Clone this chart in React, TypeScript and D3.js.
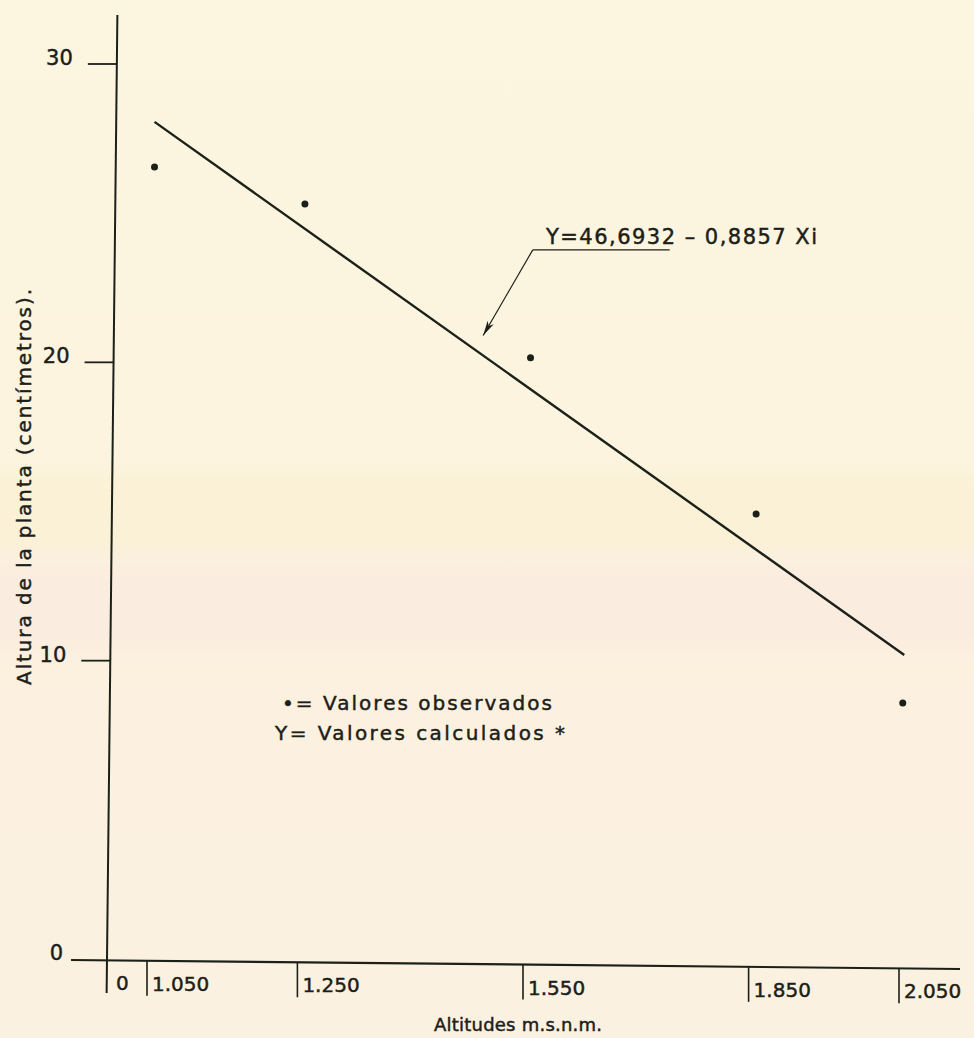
import React from "react";
import * as d3 from "d3";

// altitudes (m.s.n.m.) of the sampled sites and observed plant heights (cm)
const altitudes = [1060, 1260, 1560, 1860, 2055];
const observedHeights = [26.55, 25.31, 20.15, 14.92, 8.58];

// calculated regression line, end points
const fittedAltitudes = [1060, 2057];
const fittedHeights = [28.06, 10.19];

const yTicks = [0, 10, 20, 30];
const xTicks = [1050, 1250, 1550, 1850, 2050];
const xTickLabels = ["1.050", "1.250", "1.550", "1.850", "2.050"];

const equation = "Y=46,6932 – 0,8857 Xi";
const legendLines = ["•= Valores observados", "Y= Valores calculados *"];

const W = 974;
const H = 1038;
const ink = "#1b2019";
const font = "'DejaVu Sans', sans-serif";

// lettering-pen look: a thin outline thickens the glyphs a bit
const pen = { fontFamily: font, fill: ink, stroke: ink, strokeWidth: 0.45 };

export default function App() {
  const x = d3.scaleLinear().domain([1050, 2050]).range([147, 899]);
  const y = d3.scaleLinear().domain([0, 30]).range([959, 64]);

  // the hand drawn axes lean a little
  const axisX = (py: number) => 107 + (959 - py) * 0.011;
  const axisY = (px: number) => 960 + (px - 71) * 0.0101;

  const line = d3
    .line<number>()
    .x((d) => x(d))
    .y((_, i) => y(fittedHeights[i]));

  // arrow from the equation to the line (data space)
  const tip = [x(1497), y(20.9)];
  const elbow = [x(1563), y(23.77)];
  const underlineEnd = x(1745);

  return (
    <div style={{ position: "absolute", left: 0, top: 0 }}>
      <svg width={W} height={H} style={{ display: "block" }}>
        <defs>
          <linearGradient id="paper" x1="0" y1="0" x2="0" y2="1">
            <stop offset="0" stopColor="#fcf5e0" />
            <stop offset="0.44" stopColor="#fcf4df" />
            <stop offset="0.47" stopColor="#faf1d6" />
            <stop offset="0.52" stopColor="#faf1d7" />
            <stop offset="0.535" stopColor="#fbf0dd" />
            <stop offset="0.56" stopColor="#fbece0" />
            <stop offset="0.61" stopColor="#fbece0" />
            <stop offset="0.64" stopColor="#fcf1df" />
            <stop offset="1" stopColor="#fbf1e0" />
          </linearGradient>
          <marker
            id="arrow"
            viewBox="-16 -5 17 10"
            refX="0"
            refY="0"
            markerWidth="17"
            markerHeight="10"
            markerUnits="userSpaceOnUse"
            orient="auto"
          >
            <path d="M0,0 L-15,-3.5 L-11,0 L-15,3.5 Z" fill={ink} />
          </marker>
        </defs>
        <rect width={W} height={H} fill="url(#paper)" />

        {/* y axis */}
        <line x1={axisX(15)} y1={15} x2={axisX(993)} y2={993} stroke={ink} strokeWidth={2} />
        {yTicks.map((t) => {
          const py = y(t);
          const ax = axisX(py);
          return (
            <g key={t}>
              {t !== 0 && (
                <line x1={ax - 29} y1={py} x2={ax} y2={py} stroke={ink} strokeWidth={1.8} />
              )}
              <text x={ax - 44} y={py + 1} textAnchor="end" fontSize={21} {...pen}>
                {t}
              </text>
            </g>
          );
        })}

        {/* x axis */}
        <line x1={71} y1={axisY(71)} x2={960} y2={axisY(960)} stroke={ink} strokeWidth={2.2} />
        {xTicks.map((t, i) => {
          const px = x(t);
          const ay = axisY(px);
          return (
            <g key={t}>
              <line x1={px} y1={ay} x2={px} y2={ay + 35} stroke={ink} strokeWidth={1.6} />
              <text x={px + 5} y={ay + 30} fontSize={20} {...pen}>
                {xTickLabels[i]}
              </text>
            </g>
          );
        })}
        <text x={116} y={990} fontSize={20} {...pen}>
          0
        </text>

        {/* axis titles */}
        <text
          x={518}
          y={1031}
          textAnchor="middle"
          fontSize={18}
          textLength={168}
          lengthAdjust="spacing"
          {...pen}
        >
          Altitudes m.s.n.m.
        </text>
        <text
          transform="translate(31,487) rotate(-90)"
          textAnchor="middle"
          fontSize={20}
          textLength={396}
          lengthAdjust="spacing"
          {...pen}
        >
          Altura de la planta (centímetros).
        </text>

        {/* calculated line */}
        <path d={line(fittedAltitudes) || ""} fill="none" stroke={ink} strokeWidth={2.4} />

        {/* observed values */}
        {altitudes.map((a, i) => (
          <circle key={a} cx={x(a)} cy={y(observedHeights[i])} r={3.5} fill={ink} />
        ))}

        {/* equation annotation */}
        <text
          x={546}
          y={elbow[1] - 6}
          fontSize={21}
          textLength={271}
          lengthAdjust="spacing"
          {...pen}
        >
          {equation}
        </text>
        <line x1={elbow[0]} y1={elbow[1]} x2={underlineEnd} y2={elbow[1]} stroke={ink} strokeWidth={1.4} />
        <line
          x1={elbow[0]}
          y1={elbow[1]}
          x2={tip[0]}
          y2={tip[1]}
          stroke={ink}
          strokeWidth={1.2}
          markerEnd="url(#arrow)"
        />

        {/* legend */}
        <text x={282} y={710} fontSize={20} textLength={270} lengthAdjust="spacing" {...pen}>
          {legendLines[0]}
        </text>
        <text x={275} y={740} fontSize={20} textLength={290} lengthAdjust="spacing" {...pen}>
          {legendLines[1]}
        </text>
      </svg>
    </div>
  );
}
